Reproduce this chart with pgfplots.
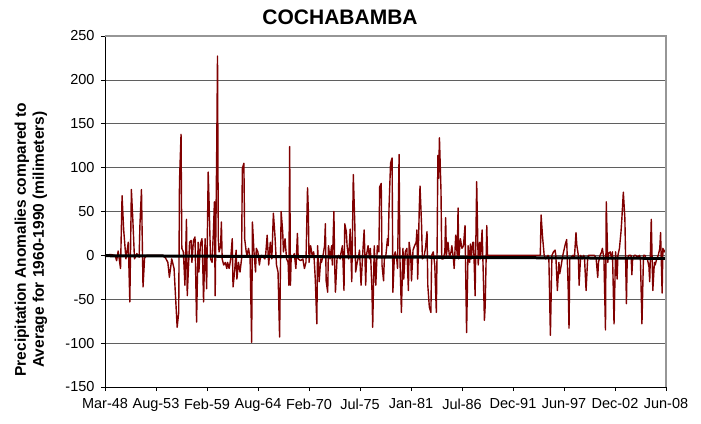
\documentclass[border=0pt]{standalone}
\usepackage{fontspec}
\setmainfont{Liberation Sans}
\usepackage{pgfplots}
\usepackage{pgfplotstable}
\pgfplotsset{compat=1.18}
\definecolor{datared}{RGB}{128,0,0}
\definecolor{gridgray}{RGB}{95,95,95}
\definecolor{bordergray}{RGB}{150,150,150}

% month index (0 = Mar-48), anomaly in mm
\pgfplotstableread{
m v
0 0
7 1
13 0
15 -6
17 5
20 -15
22 68
24 30
27 -4
30 15
32 -53
34 75
36 38
38 -4
41 2
44 -2
45 34
47 75
49 -36
51 -3
54 0
65 0
75 0
78 -3
81 -8
83 -25
86 -4
89 -15
93 -82
95 -65
96 84
98 138
99 8
101 4
103 -34
105 41
106 -46
109 15
111 17
112 -8
114 17
116 21
118 -76
120 15
121 -19
123 13
125 19
126 -11
127 -53
129 19
131 -38
133 95
134 65
136 -4
138 -8
140 34
141 61
142 -46
144 122
145 227
146 19
147 4
149 11
150 38
151 -4
153 -11
155 -8
157 -15
158 -8
160 -15
162 -4
164 19
165 -36
167 -19
169 6
170 -27
172 -8
174 -19
176 -4
177 99
179 105
180 19
182 4
183 0
185 8
187 -4
189 -99
190 38
192 4
194 -19
195 8
197 4
199 -11
200 -4
202 0
204 -2
206 -4
207 0
209 23
211 -11
213 15
215 -4
217 48
219 23
221 -11
223 -19
225 -93
227 50
229 27
230 4
232 19
234 -4
236 -8
237 -34
238 124
239 -34
240 0
242 -2
244 2
246 -15
248 25
249 -4
252 -6
255 -4
257 -15
259 -8
261 77
262 53
263 -8
265 11
267 0
269 4
270 -11
271 -27
273 -78
274 11
276 -30
278 -4
279 -8
281 0
283 11
284 36
285 -29
287 -42
288 11
290 -4
292 11
293 -11
295 50
296 -11
297 -42
299 -4
301 0
303 -4
304 2
306 11
308 -40
309 36
311 27
312 11
314 -4
316 30
318 -30
319 27
320 92
322 34
323 -19
325 -8
327 0
328 6
330 -34
332 0
334 29
336 -34
337 0
339 11
341 -4
342 8
344 -38
345 -82
347 11
349 -34
351 11
353 4
354 78
356 82
357 -11
359 -29
360 -4
362 0
364 19
365 11
366 53
368 105
370 111
371 -42
373 0
374 4
376 -4
377 -15
379 115
380 0
382 -65
384 8
385 -27
387 4
389 8
391 -40
392 15
394 0
395 -29
397 6
399 11
401 15
402 29
403 -27
405 53
406 79
408 34
409 -4
411 -2
413 8
415 27
416 -34
418 -59
420 -65
421 0
423 4
425 -11
427 -65
428 8
429 114
430 88
431 134
433 74
434 -4
436 -4
438 4
439 43
440 0
442 15
444 -2
446 4
447 11
449 -4
450 -15
452 23
454 0
455 54
456 -4
458 19
460 8
462 11
464 34
465 -29
466 -88
468 11
470 -8
471 13
472 -4
474 15
475 15
477 -46
479 84
481 -11
483 15
484 -4
486 29
487 -4
489 -74
490 -57
492 34
493 0
509 0
535 0
561 0
562 46
564 20
566 0
568 -4
571 0
572 -2
574 -91
576 0
578 4
580 6
581 0
583 -40
585 -8
586 -21
588 -11
590 0
592 8
593 12
595 18
597 -40
598 -83
599 -4
601 -2
603 0
605 -2
607 26
608 12
610 0
611 -34
613 0
615 -4
617 0
618 -4
620 -40
622 -4
623 0
631 0
633 -4
635 -25
636 -8
638 0
640 4
641 8
643 -4
645 -85
646 61
648 -8
649 2
651 4
653 -4
654 4
656 -78
658 4
660 -27
661 0
663 8
665 27
666 40
668 72
670 42
672 -55
673 -4
675 0
678 0
679 -22
680 -4
682 0
684 0
686 -2
689 0
690 -4
692 -78
694 0
696 0
697 -4
699 -4
701 -13
702 -30
704 41
706 -40
708 -8
709 -11
711 -4
713 0
715 8
716 26
718 -43
719 8
721 4
722 6
}\anomalies

\begin{document}
\begin{tikzpicture}
\useasboundingbox (-105pt,-36pt) rectangle (596pt,387pt);
\begin{axis}[
  at={(0,0)}, anchor=south west,
  scale only axis, width=561pt, height=351pt,
  xmin=0, xmax=723, ymin=-150, ymax=250,
  axis lines*=left,
  axis line style={black, line width=0.8pt, -},
  ytick={-150,-100,...,250},
  xtick={0,65.73,131.45,197.18,262.91,328.64,394.36,460.09,525.82,591.55,657.27,723},
  xticklabels={Mar-48,Aug-53,Feb-59,Aug-64,Feb-70,Jul-75,Jan-81,Jul-86,Dec-91,Jun-97,Dec-02,Jun-08},
  tick align=outside, major tick length=4pt,
  tick style={black, line width=0.6pt},
  ymajorgrids, grid style={gridgray, line width=0.7pt},
  ticklabel style={font=\fontsize{14.5}{17}\selectfont},
  xticklabel style={yshift=-4pt},
  yticklabel style={xshift=-3pt},
  /pgf/number format/assume math mode=true,
  title={COCHABAMBA},
  title style={font=\bfseries\fontsize{21}{25}\selectfont, at={(axis description cs:0.419,1)}, anchor=south, yshift=2pt},
  ylabel={Precipitation Anomalies compared to\\Average for 1960-1990 (milimeters)},
  ylabel style={at={(axis description cs:-0.132,0.42)}, anchor=center, align=center, font=\bfseries\fontsize{15.5}{18}\selectfont},
  clip=false,
]
\addplot[datared, line width=1.4pt, line join=round] table[x=m, y=v] {\anomalies};
\addplot[black, line width=3pt] coordinates {(0,-0.4) (723,-3.4)};
\draw[bordergray, line width=1.2pt] (rel axis cs:0,1) -- (rel axis cs:1,1) -- (rel axis cs:1,0);
\end{axis}
\end{tikzpicture}
\end{document}
